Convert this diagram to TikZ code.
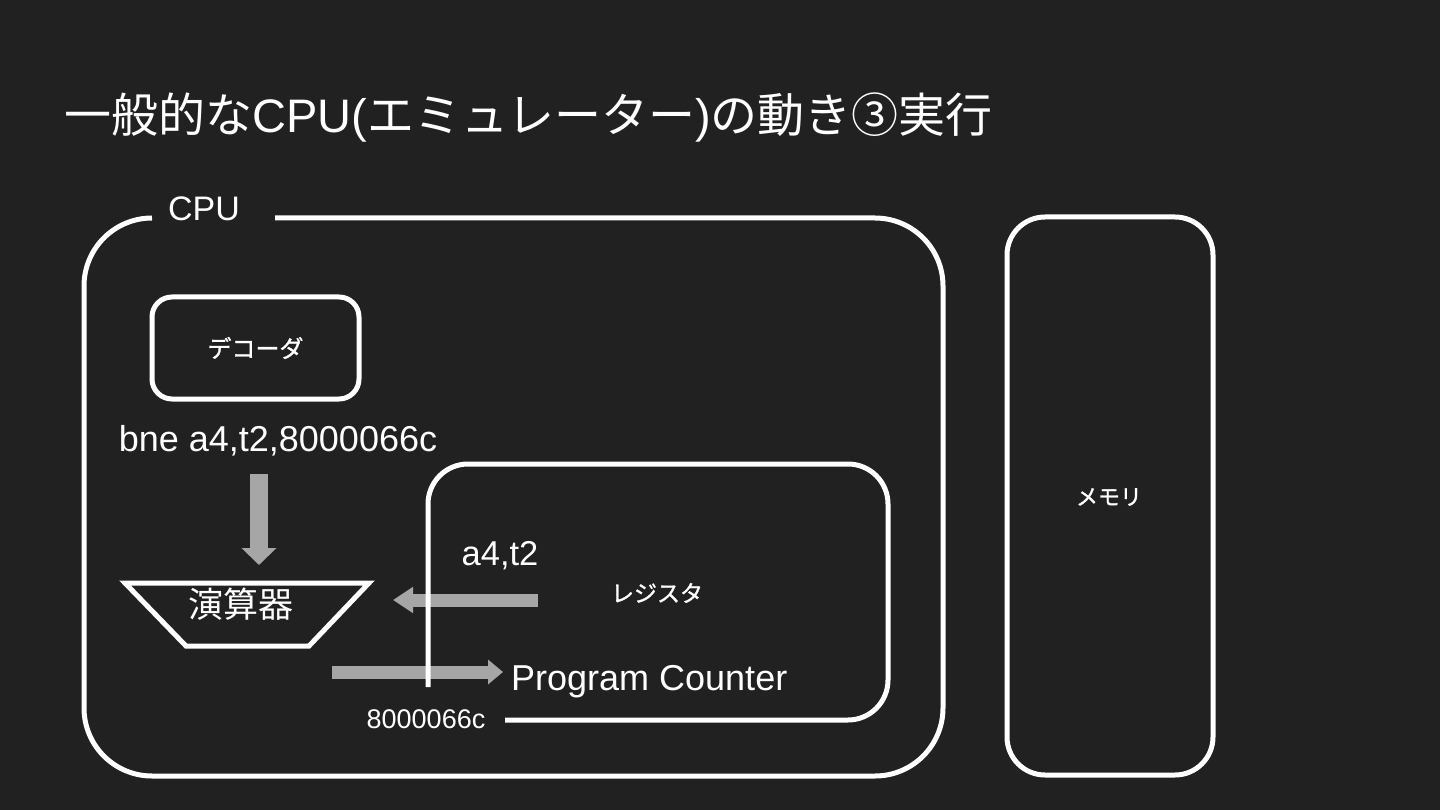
\documentclass[tikz,border=0pt]{standalone}
\usepackage{fontspec}
\setmainfont{Liberation Sans}
\newfontfamily\cjk{Noto Sans CJK JP}
\newfontfamily\cjkb[FakeBold=1.2]{Noto Sans CJK JP}
\usetikzlibrary{arrows.meta}
\definecolor{bg}{RGB}{33,33,33}
\definecolor{arr}{RGB}{166,166,166}
\begin{document}
\begin{tikzpicture}[x=1pt,y=-1pt,
  box/.style={draw=white,line width=5pt},
  lbl/.style={text=white,inner sep=0pt},
  jp/.style={lbl,font=\cjkb\fontsize{23}{28}\selectfont},
  big/.style={lbl,font=\fontsize{36}{42}\selectfont},
  blockarrow/.style={draw=arr,line width=#1},
]
\fill[bg] (0,0) rectangle (1440,810);
\useasboundingbox (0,0) rectangle (1440,810);

% title
\node[lbl,anchor=west,font=\fontsize{47}{56}\selectfont] (title) at (64,117)
  {{\cjk 一般的な}CPU({\cjk エミュレーター}){\cjk の動き③実行}};

% CPU outline with label gap
\draw[box,rounded corners=68] (275,218) -- (943,218) -- (943,776) -- (84,776) -- (84,218) -- (152,218);
\node[lbl,font=\fontsize{34}{40}\selectfont] (cpulbl) at (204,209) {CPU};

% decoder
\node[box,rounded corners=20,minimum width=207pt,minimum height=102pt] (dec) at (255.5,348) {};
\node[jp,font=\cjkb\fontsize{24}{28}\selectfont] (declbl) at (dec.center) {デコーダ};

% instruction
\node[big] (bne) at (278,441) {bne a4,t2,8000066c};

% ALU trapezoid
\coordinate (t1) at (125,583);
\coordinate (t2) at (369,583);
\coordinate (t3) at (309,646);
\coordinate (t4) at (186,646);
\draw[box,line join=miter] (t1) -- (t2) -- (t3) -- (t4) -- cycle;
\node[lbl,font=\cjk\fontsize{35}{40}\selectfont] (alu) at (241,604) {演算器};

% arrows (drawn before register box)
\coordinate (dstart) at (259,474);
\coordinate (dtip) at (259,565);
\draw[blockarrow=18pt,-{Triangle[width=34pt,length=17pt]}] (dstart) -- (dtip);
\coordinate (lstart) at (538,600);
\coordinate (ltip) at (393,600);
\draw[blockarrow=13pt,-{Triangle[width=25pt,length=20pt]}] (lstart) -- (ltip);
\coordinate (rstart) at (332,672);
\coordinate (rtip) at (503,672);
\draw[blockarrow=13pt,-{Triangle[width=24pt,length=15pt]}] (rstart) -- (rtip);

% register box (open at bottom-left)
\draw[box,rounded corners=40] (428,687) -- (428,464) -- (888,464) -- (888,720) -- (505,720);
\node[lbl,font=\fontsize{34.5}{40}\selectfont] (a4t2) at (500,556) {a4,t2};
\node[jp] (reglbl) at (657,593) {レジスタ};
\node[big,anchor=west] (pc) at (511,682) {Program Counter};
\node[lbl,font=\fontsize{27}{30}\selectfont] (pcval) at (426,719) {8000066c};

% memory
\node[box,rounded corners=38,minimum width=206pt,minimum height=558pt] (mem) at (1110,496) {};
\node[jp,font=\cjkb\fontsize{22}{28}\selectfont] (memlbl) at (1109,497) {メモリ};
\end{tikzpicture}
\end{document}
